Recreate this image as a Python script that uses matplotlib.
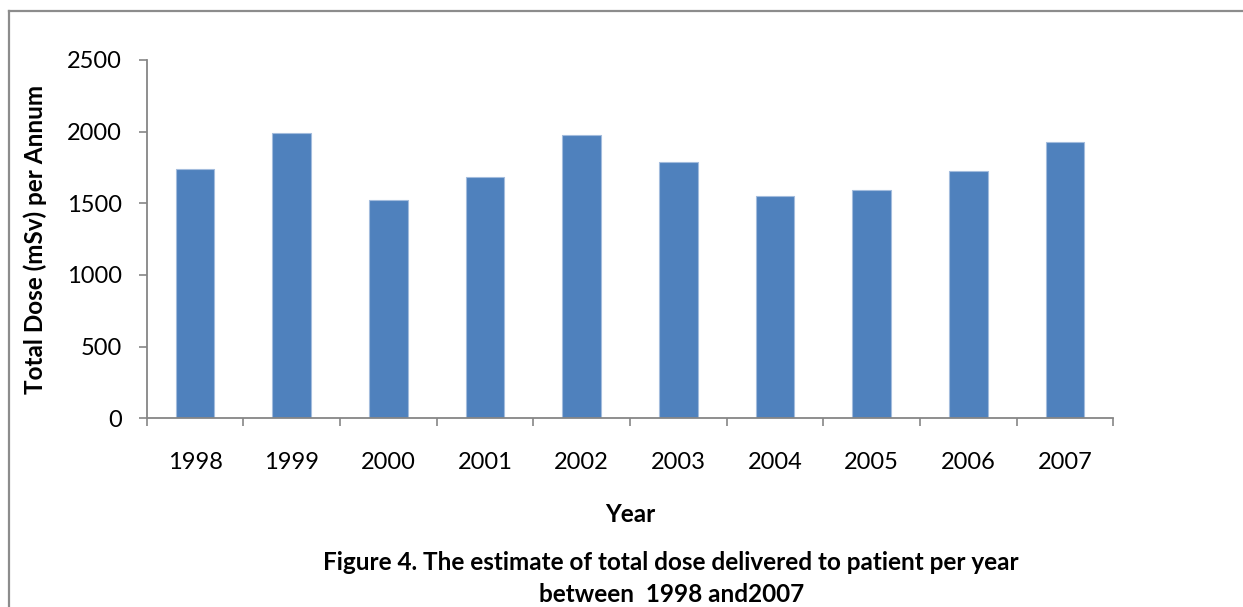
import matplotlib.pyplot as plt
import numpy as np
from matplotlib.lines import Line2D

plt.rcParams['font.family'] = ['Lato', 'DejaVu Sans']

# === Data ===
years = ['1998', '1999', '2000', '2001', '2002', '2003', '2004', '2005', '2006', '2007']
total_dose = [1740, 1988, 1521, 1682, 1979, 1790, 1549, 1591, 1723, 1926]

BAR_COLOR = '#4F81BD'
AXIS_COLOR = '#868686'

fig = plt.figure(figsize=(12.43, 6.07), dpi=100)
ax = fig.add_axes([0.118, 0.3109, 0.7777, 0.5903])

x = np.arange(len(years))
ax.bar(x, total_dose, width=0.4, color=BAR_COLOR, edgecolor='#A3BCDD', linewidth=0.8)

ax.set_xlim(-0.5, len(years) - 0.5)
ax.set_ylim(0, 2500)
ax.set_yticks(np.arange(0, 2501, 500))

# category labels in the middle, tick marks on the boundaries
ax.set_xticks(x)
ax.set_xticklabels(years)
ax.set_xticks(np.arange(-0.5, len(years)), minor=True)
ax.tick_params(axis='x', which='major', length=0, pad=24, labelsize=17)
ax.tick_params(axis='x', which='minor', length=6, width=1.2, color=AXIS_COLOR, direction='out')
ax.tick_params(axis='y', length=6, width=1.2, color=AXIS_COLOR, pad=12, labelsize=17)

for side in ['top', 'right']:
    ax.spines[side].set_visible(False)
for side in ['left', 'bottom']:
    ax.spines[side].set_color(AXIS_COLOR)
    ax.spines[side].set_linewidth(1.3)

ax.set_ylabel('Total Dose (mSv) per Annum', fontsize=17.5, fontweight='bold', labelpad=14)
ax.set_xlabel('Year', fontsize=17.5, fontweight='bold', labelpad=22)

fig.text(0.54, 0.073, 'Figure 4. The estimate of total dose delivered to patient per year',
         ha='center', va='center', fontsize=17.5, fontweight='bold')
fig.text(0.54, 0.020, 'between  1998 and2007',
         ha='center', va='center', fontsize=17.5, fontweight='bold')

# frame around the figure (left and top edges)
fig.add_artist(Line2D([8.5 / 1243, 8.5 / 1243], [0, 1 - 10.5 / 607],
                      transform=fig.transFigure, color='#8C8C8C', linewidth=1.6))
fig.add_artist(Line2D([8.5 / 1243, 1], [1 - 10.5 / 607, 1 - 10.5 / 607],
                      transform=fig.transFigure, color='#8C8C8C', linewidth=1.6))

fig.savefig('out.png', dpi=100)
